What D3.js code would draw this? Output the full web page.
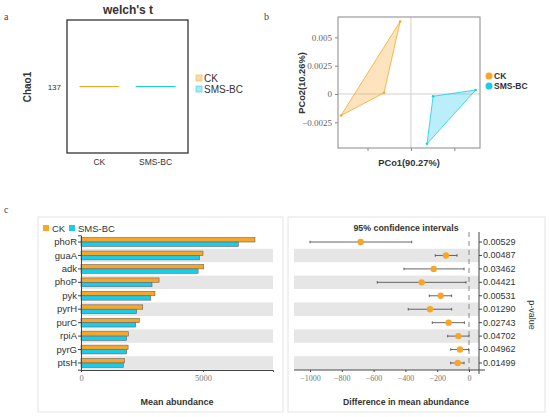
<!DOCTYPE html>
<html>
<head>
<meta charset="utf-8">
<script src="https://cdn.jsdelivr.net/npm/d3@7"></script>
<style>
  body { margin: 0; background: #fff; }
  svg { display: block; font-family: "Liberation Sans", Arial, sans-serif; }
  .serif { font-family: "Liberation Serif", "DejaVu Serif", serif; }
</style>
</head>
<body>
<script>
// ---- data ----
const groups = ["CK", "SMS-BC"];
const colors = ["#F7A628", "#1ACBEA"];

// panel a: Chao1 per group
const chao1 = [137, 137];

// panel b: PCoA points (x = PCo1, y = PCo2)
const ckPoints = [[-0.0025, 0.0064], [-0.0062, 0.0001], [-0.0161, -0.0019]];
const smsPoints = [[0.0051, -0.0002], [0.0149, 0.00035], [0.0037, -0.0044]];
const pcoYTicks = [-0.0025, 0, 0.0025, 0.005];
const pcoXTicks = [-0.01, 0, 0.01];

// panel c: genes
const genes = ["phoR", "guaA", "adk", "phoP", "pyk", "pyrH", "purC", "rpiA", "pyrG", "ptsH"];
const ckMean = [7130, 5000, 5030, 3200, 3030, 2530, 2390, 1940, 1930, 1790];
const smsMean = [6450, 4860, 4800, 2910, 2860, 2280, 2240, 1870, 1870, 1735];
const diffMean = [-681, -145, -222, -298, -178, -245, -128, -67, -57, -71];
const ciLow = [-1000, -212, -409, -577, -250, -382, -231, -134, -115, -115];
const ciHigh = [-360, -75, -31, -19, -109, -109, -29, 0, -2, -31];
const pValues = ["0.00529", "0.00487", "0.03462", "0.04421", "0.00531", "0.01290", "0.02743", "0.04702", "0.04962", "0.01499"];
const diffTicks = [-1000, -800, -600, -400, -200, 0];

const W = 550, H = 417;
const svg = d3.select("body").append("svg")
  .attr("width", W)
  .attr("height", H);

// panel letters
svg.append("text").attr("class", "serif").attr("x", 4).attr("y", 20).attr("font-size", 10).attr("fill", "#444").text("a");
svg.append("text").attr("class", "serif").attr("x", 264).attr("y", 20).attr("font-size", 10).attr("fill", "#444").text("b");
svg.append("text").attr("class", "serif").attr("x", 4).attr("y", 213).attr("font-size", 10).attr("fill", "#444").text("c");

// ================= panel a =================
const a = svg.append("g");
const ax = d3.scaleBand().domain(groups).range([67, 188]).padding(0.15);
const ay = d3.scaleLinear().domain([136, 138]).range([153, 20]);

a.append("text")
  .attr("x", 128).attr("y", 14)
  .attr("text-anchor", "middle")
  .attr("font-size", 12).attr("font-weight", "bold").attr("fill", "#333")
  .text("welch's t");

a.append("rect")
  .attr("x", 67).attr("y", 20).attr("width", 121).attr("height", 133)
  .attr("fill", "none").attr("stroke", "#333").attr("stroke-width", 1.3);

a.selectAll("line.mean")
  .data(groups)
  .enter()
  .append("line")
    .attr("class", "mean")
    .attr("x1", (d) => ax(d) + 4)
    .attr("x2", (d) => ax(d) + ax.bandwidth() - 4)
    .attr("y1", (d, i) => ay(chao1[i]))
    .attr("y2", (d, i) => ay(chao1[i]))
    .attr("stroke", (d, i) => colors[i])
    .attr("stroke-width", 1.2);

a.append("text")
  .attr("x", 61).attr("y", ay(137) + 3)
  .attr("text-anchor", "end").attr("font-size", 8).attr("fill", "#333")
  .text("137");

a.append("text")
  .attr("transform", "translate(31," + 87 + ") rotate(-90)")
  .attr("text-anchor", "middle")
  .attr("font-size", 10).attr("font-weight", "bold").attr("fill", "#333")
  .text("Chao1");

a.selectAll("text.xlab")
  .data(groups)
  .enter()
  .append("text")
    .attr("class", "xlab")
    .attr("x", (d) => ax(d) + ax.bandwidth() / 2)
    .attr("y", 165)
    .attr("text-anchor", "middle").attr("font-size", 8.5).attr("fill", "#333")
    .text((d) => d);

groups.forEach((g, i) => {
  a.append("rect")
    .attr("x", 196).attr("y", 75 + i * 11).attr("width", 6).attr("height", 6)
    .attr("fill", colors[i]).attr("fill-opacity", 0.4)
    .attr("stroke", colors[i]).attr("stroke-opacity", 0.5);
  a.append("text")
    .attr("x", 204).attr("y", 82 + i * 11)
    .attr("font-size", 10).attr("fill", "#333")
    .text(g);
});

// ================= panel b =================
const b = svg.append("g");
const bx = d3.scaleLinear().domain([-0.0168, 0.0159]).range([338, 480]);
const by = d3.scaleLinear().domain([-0.00477, 0.0068]).range([148, 17]);

b.append("line")
  .attr("x1", bx(0)).attr("x2", bx(0)).attr("y1", 17).attr("y2", 148)
  .attr("stroke", "#d0d0d0").attr("stroke-width", 1);
b.append("line")
  .attr("x1", 338).attr("x2", 480).attr("y1", by(0)).attr("y2", by(0))
  .attr("stroke", "#d0d0d0").attr("stroke-width", 1);

b.append("rect")
  .attr("x", 338).attr("y", 17).attr("width", 142).attr("height", 131)
  .attr("fill", "none").attr("stroke", "#888").attr("stroke-width", 1);

const line = d3.line().x((d) => bx(d[0])).y((d) => by(d[1]));
[ckPoints, smsPoints].forEach((pts, i) => {
  b.append("path")
    .attr("d", line(pts) + "Z")
    .attr("fill", colors[i]).attr("fill-opacity", 0.3)
    .attr("stroke", colors[i]).attr("stroke-width", 0.8);
  b.selectAll(null)
    .data(pts)
    .enter()
    .append("circle")
      .attr("cx", (d) => bx(d[0]))
      .attr("cy", (d) => by(d[1]))
      .attr("r", 1.3)
      .attr("fill", colors[i]);
});

b.append("g")
  .attr("transform", "translate(338,0)")
  .call(d3.axisLeft(by).tickValues(pcoYTicks).tickSize(3).tickFormat((d) => d === 0 ? "0" : d3.format("")(d)))
  .call((g) => g.select(".domain").remove())
  .call((g) => g.selectAll("line").attr("stroke", "#888"))
  .call((g) => g.selectAll("text").attr("class", "serif").attr("font-size", 9).attr("fill", "#666"));

b.append("g")
  .attr("transform", "translate(0,148)")
  .call(d3.axisBottom(bx).tickValues(pcoXTicks).tickSize(3).tickFormat(""))
  .call((g) => g.select(".domain").remove())
  .call((g) => g.selectAll("line").attr("stroke", "#888"));

b.append("text")
  .attr("transform", "translate(305,83) rotate(-90)")
  .attr("text-anchor", "middle")
  .attr("font-size", 9.3).attr("font-weight", "bold").attr("fill", "#333")
  .text("PCo2(10.26%)");

b.append("text")
  .attr("x", 409).attr("y", 166)
  .attr("text-anchor", "middle")
  .attr("font-size", 9.3).attr("font-weight", "bold").attr("fill", "#333")
  .text("PCo1(90.27%)");

groups.forEach((g, i) => {
  b.append("circle")
    .attr("cx", 489).attr("cy", 76 + i * 10).attr("r", 3.5)
    .attr("fill", colors[i]);
  b.append("text")
    .attr("x", 494).attr("y", 79 + i * 10)
    .attr("font-size", 8.5).attr("font-weight", "bold").attr("fill", "#333")
    .text(g);
});

// ================= panel c =================
const c = svg.append("g");

// frames
c.append("rect").attr("x", 38).attr("y", 217).attr("width", 245).attr("height", 195)
  .attr("fill", "none").attr("stroke", "#e4e4e4");
c.append("rect").attr("x", 288).attr("y", 217).attr("width", 257).attr("height", 195)
  .attr("fill", "none").attr("stroke", "#e4e4e4");

const rowY = d3.scaleBand().domain(genes).range([235.3, 369.7]);

// left: bars
const cx = d3.scaleLinear().domain([0, 7869]).range([81, 273]);

c.selectAll("rect.bandL")
  .data(genes.filter((d, i) => i % 2 === 1))
  .enter()
  .append("rect")
    .attr("class", "bandL")
    .attr("x", 81).attr("width", 192)
    .attr("y", (d) => rowY(d))
    .attr("height", rowY.bandwidth())
    .attr("fill", "#e6e6e6");

const barH = 4.4;
[ckMean, smsMean].forEach((vals, k) => {
  c.selectAll(null)
    .data(genes)
    .enter()
    .append("rect")
      .attr("x", cx(0))
      .attr("y", (d) => rowY(d) + rowY.bandwidth() / 2 - barH + k * barH)
      .attr("width", (d, i) => cx(vals[i]) - cx(0))
      .attr("height", barH)
      .attr("fill", colors[k])
      .attr("stroke", "#666").attr("stroke-width", 0.6);
});

c.append("g")
  .attr("transform", "translate(81,0)")
  .call(d3.axisLeft(rowY).tickSize(3).tickPadding(1))
  .call((g) => g.select(".domain").attr("stroke", "#444"))
  .call((g) => g.selectAll("line").attr("stroke", "#444"))
  .call((g) => g.selectAll("text").attr("font-size", 9.5).attr("fill", "#333").attr("font-family", "Liberation Sans, Arial, sans-serif"));

c.append("g")
  .attr("transform", "translate(0,370)")
  .call(d3.axisBottom(cx).tickValues([0, 5000]).tickSize(2).tickFormat(d3.format("d")))
  .call((g) => g.select(".domain").attr("stroke", "#444"))
  .call((g) => g.selectAll("line").attr("stroke", "#444"))
  .call((g) => g.selectAll("text").attr("class", "serif").attr("font-size", 8.5).attr("fill", "#777"));

c.append("text")
  .attr("x", 177).attr("y", 405)
  .attr("text-anchor", "middle")
  .attr("font-size", 9).attr("font-weight", "bold").attr("fill", "#333")
  .text("Mean abundance");

groups.forEach((g, i) => {
  const lx = [43, 69][i];
  c.append("rect")
    .attr("x", lx).attr("y", 225).attr("width", 6).attr("height", 6)
    .attr("fill", colors[i]);
  c.append("text")
    .attr("x", lx + 9).attr("y", 231.5)
    .attr("font-size", 9.5).attr("fill", "#333")
    .text(g);
});

// right: confidence intervals
const dx = d3.scaleLinear().domain([-1000, 0]).range([310, 469]);
const plotL = 294, plotR = 479;

c.selectAll("rect.bandR")
  .data(genes.filter((d, i) => i % 2 === 1))
  .enter()
  .append("rect")
    .attr("class", "bandR")
    .attr("x", plotL).attr("width", plotR - plotL)
    .attr("y", (d) => rowY(d))
    .attr("height", rowY.bandwidth())
    .attr("fill", "#e6e6e6");

c.append("line")
  .attr("x1", dx(0)).attr("x2", dx(0)).attr("y1", 232).attr("y2", 370)
  .attr("stroke", "#888").attr("stroke-width", 1).attr("stroke-dasharray", "5,4");

const cy = (d) => rowY(d) + rowY.bandwidth() / 2;

c.selectAll("line.ci")
  .data(genes)
  .enter()
  .append("line")
    .attr("class", "ci")
    .attr("x1", (d, i) => dx(ciLow[i]))
    .attr("x2", (d, i) => dx(ciHigh[i]))
    .attr("y1", cy).attr("y2", cy)
    .attr("stroke", "#555").attr("stroke-width", 0.9);

[ciLow, ciHigh].forEach((vals) => {
  c.selectAll(null)
    .data(genes)
    .enter()
    .append("line")
      .attr("x1", (d, i) => dx(vals[i]))
      .attr("x2", (d, i) => dx(vals[i]))
      .attr("y1", (d) => cy(d) - 1.3)
      .attr("y2", (d) => cy(d) + 1.3)
      .attr("stroke", "#555").attr("stroke-width", 0.9);
});

c.selectAll("circle.pt")
  .data(genes)
  .enter()
  .append("circle")
    .attr("class", "pt")
    .attr("cx", (d, i) => dx(diffMean[i]))
    .attr("cy", cy)
    .attr("r", 3.2)
    .attr("fill", colors[0]);

c.append("g")
  .attr("transform", "translate(0,370)")
  .call(d3.axisBottom(dx).tickValues(diffTicks).tickSize(2).tickFormat(d3.format("d")))
  .call((g) => g.select(".domain").remove())
  .call((g) => g.selectAll("line").attr("stroke", "#444"))
  .call((g) => g.selectAll("text").attr("class", "serif").attr("font-size", 8).attr("fill", "#777"));

c.append("line")
  .attr("x1", plotL).attr("x2", plotR + 6).attr("y1", 370).attr("y2", 370)
  .attr("stroke", "#444");

const pAxis = d3.scaleBand().domain(pValues).range([235.3, 369.7]);
c.append("g")
  .attr("transform", "translate(" + plotR + ",0)")
  .call(d3.axisRight(pAxis).tickSize(3).tickPadding(1))
  .call((g) => g.select(".domain").attr("stroke", "#444").attr("d", "M0,232V374"))
  .call((g) => g.selectAll("line").attr("stroke", "#444"))
  .call((g) => g.selectAll("text").attr("font-size", 9).attr("fill", "#333").attr("font-family", "Liberation Sans, Arial, sans-serif"));

c.append("text")
  .attr("transform", "translate(529,315) rotate(90)")
  .attr("text-anchor", "middle")
  .attr("font-size", 9).attr("fill", "#333")
  .text("p-value");

c.append("text")
  .attr("x", 406).attr("y", 231)
  .attr("text-anchor", "middle")
  .attr("font-size", 8.8).attr("font-weight", "bold").attr("fill", "#333")
  .text("95% confidence intervals");

c.append("text")
  .attr("x", 406).attr("y", 405)
  .attr("text-anchor", "middle")
  .attr("font-size", 8.7).attr("font-weight", "bold").attr("fill", "#333")
  .text("Difference in mean abundance");
</script>
</body>
</html>
